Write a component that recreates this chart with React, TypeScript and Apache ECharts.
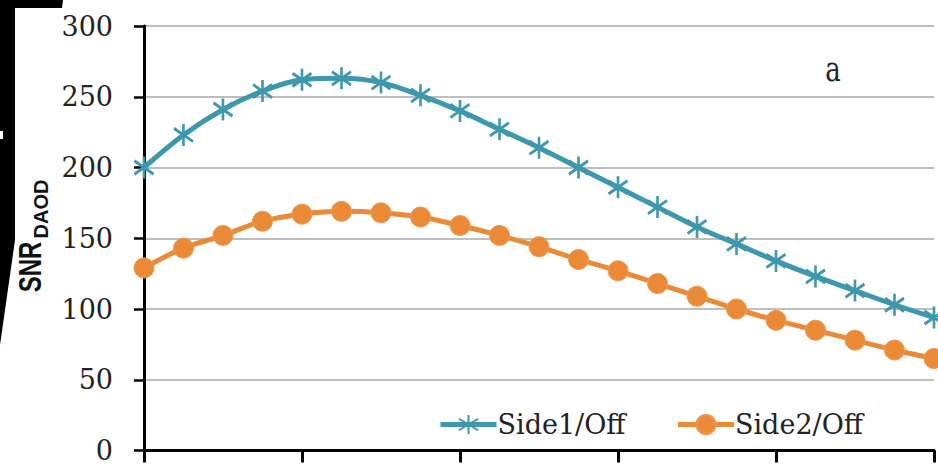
import React, { useEffect, useRef } from "react";
import * as echarts from "echarts";

const xValues = [0, 1, 2, 3, 4, 5, 6, 7, 8, 9, 10, 11, 12, 13, 14, 15, 16, 17, 18, 19, 20];
const side1Off = [200, 223, 241, 254, 262, 263, 260, 251, 240, 227, 214, 200, 186, 172, 158, 146, 134, 123, 113, 103, 94];
const side2Off = [129, 143, 152, 162, 167, 169, 168, 165, 159, 152, 144, 135, 127, 118, 109, 100, 92, 85, 78, 71, 65];
const seriesNames = ["Side1/Off", "Side2/Off"];
const yTicks = { min: 0, max: 300, interval: 50 };
const xTicks = { min: 0, max: 20, interval: 4 };
const panelLabel = "a";

const TEAL = "#3D97AD";
const ORANGE = "#EA8A36";
const ASTERISK = "path://M0,-10L0,10M-8.5,-6L8.5,6M-8.5,6L8.5,-6";

export default function App() {
  const ref = useRef<HTMLDivElement>(null);
  useEffect(() => {
    document.body.style.margin = "0";
    if (!ref.current) return;
    const chart = echarts.init(ref.current, null, { renderer: "svg" });
    const pair = (ys: number[]) => xValues.map((x, i) => [x, ys[i]]);
    chart.setOption({
      animation: false,
      backgroundColor: "#ffffff",
      grid: { left: 144, top: 26, width: 790, height: 429 },
      xAxis: {
        type: "value",
        min: xTicks.min,
        max: xTicks.max,
        interval: xTicks.interval,
        axisLine: { show: true, lineStyle: { color: "#000", width: 3 } },
        axisTick: { show: true, length: 12, lineStyle: { color: "#000", width: 3 } },
        axisLabel: { show: false },
        splitLine: { show: false },
      },
      yAxis: {
        type: "value",
        min: yTicks.min,
        max: yTicks.max,
        interval: yTicks.interval,
        axisLine: { show: true, lineStyle: { color: "#000", width: 3 } },
        axisTick: { show: true, length: 10, lineStyle: { color: "#000", width: 2.5 } },
        axisLabel: {
          margin: 31,
          fontFamily: "DejaVu Serif",
          fontSize: 27,
          color: "#222",
        },
        splitLine: { show: true, lineStyle: { color: "#A8A8A8", width: 1.5 } },
      },
      legend: {
        left: 433,
        top: 406,
        itemWidth: 56,
        itemHeight: 24,
        itemGap: 50,
        lineStyle: { width: 5 },
        textStyle: { fontFamily: "DejaVu Serif", fontSize: 27, color: "#222", padding: [0, 0, 0, -4] },
        data: seriesNames,
      },
      series: [
        {
          name: seriesNames[0],
          type: "line",
          data: pair(side1Off),
          smooth: 0.35,
          symbol: ASTERISK,
          symbolSize: [19, 22],
          showAllSymbol: true,
          lineStyle: { color: TEAL, width: 5 },
          itemStyle: { color: TEAL, borderColor: TEAL, borderWidth: 2.8 },
          z: 3,
        },
        {
          name: seriesNames[1],
          type: "line",
          data: pair(side2Off),
          smooth: 0.35,
          symbol: "circle",
          symbolSize: 20,
          showAllSymbol: true,
          lineStyle: { color: ORANGE, width: 5 },
          itemStyle: { color: ORANGE, borderColor: "#EE9A55", borderWidth: 1 },
          z: 2,
        },
      ],
      graphic: [
        {
          type: "polygon",
          shape: { points: [[0, 0], [63, 0], [62, 8], [15, 8], [15, 240], [0, 345]] },
          style: { fill: "#000" },
          z: 100,
        },
        { type: "rect", shape: { x: 0, y: 131, width: 3, height: 8 }, style: { fill: "#fff" }, z: 101 },
        {
          type: "text",
          x: 30,
          y: 267,
          rotation: Math.PI / 2,
          scaleY: 1.3,
          style: {
            text: "SNR",
            font: "bold 24px 'Liberation Sans'",
            fill: "#111",
            align: "center",
            verticalAlign: "middle",
          },
          z: 100,
        },
        {
          type: "text",
          x: 41,
          y: 209,
          rotation: Math.PI / 2,
          style: {
            text: "DAOD",
            font: "bold 20px 'Liberation Sans'",
            fill: "#111",
            align: "center",
            verticalAlign: "middle",
          },
          z: 100,
        },
        {
          type: "text",
          x: 833,
          y: 68,
          scaleY: 1.35,
          style: {
            text: panelLabel,
            font: "26px 'DejaVu Serif'",
            fill: "#222",
            align: "center",
            verticalAlign: "middle",
          },
          z: 100,
        },
      ],
    });
    return () => chart.dispose();
  }, []);
  return <div ref={ref} style={{ width: 938, height: 464 }} />;
}
